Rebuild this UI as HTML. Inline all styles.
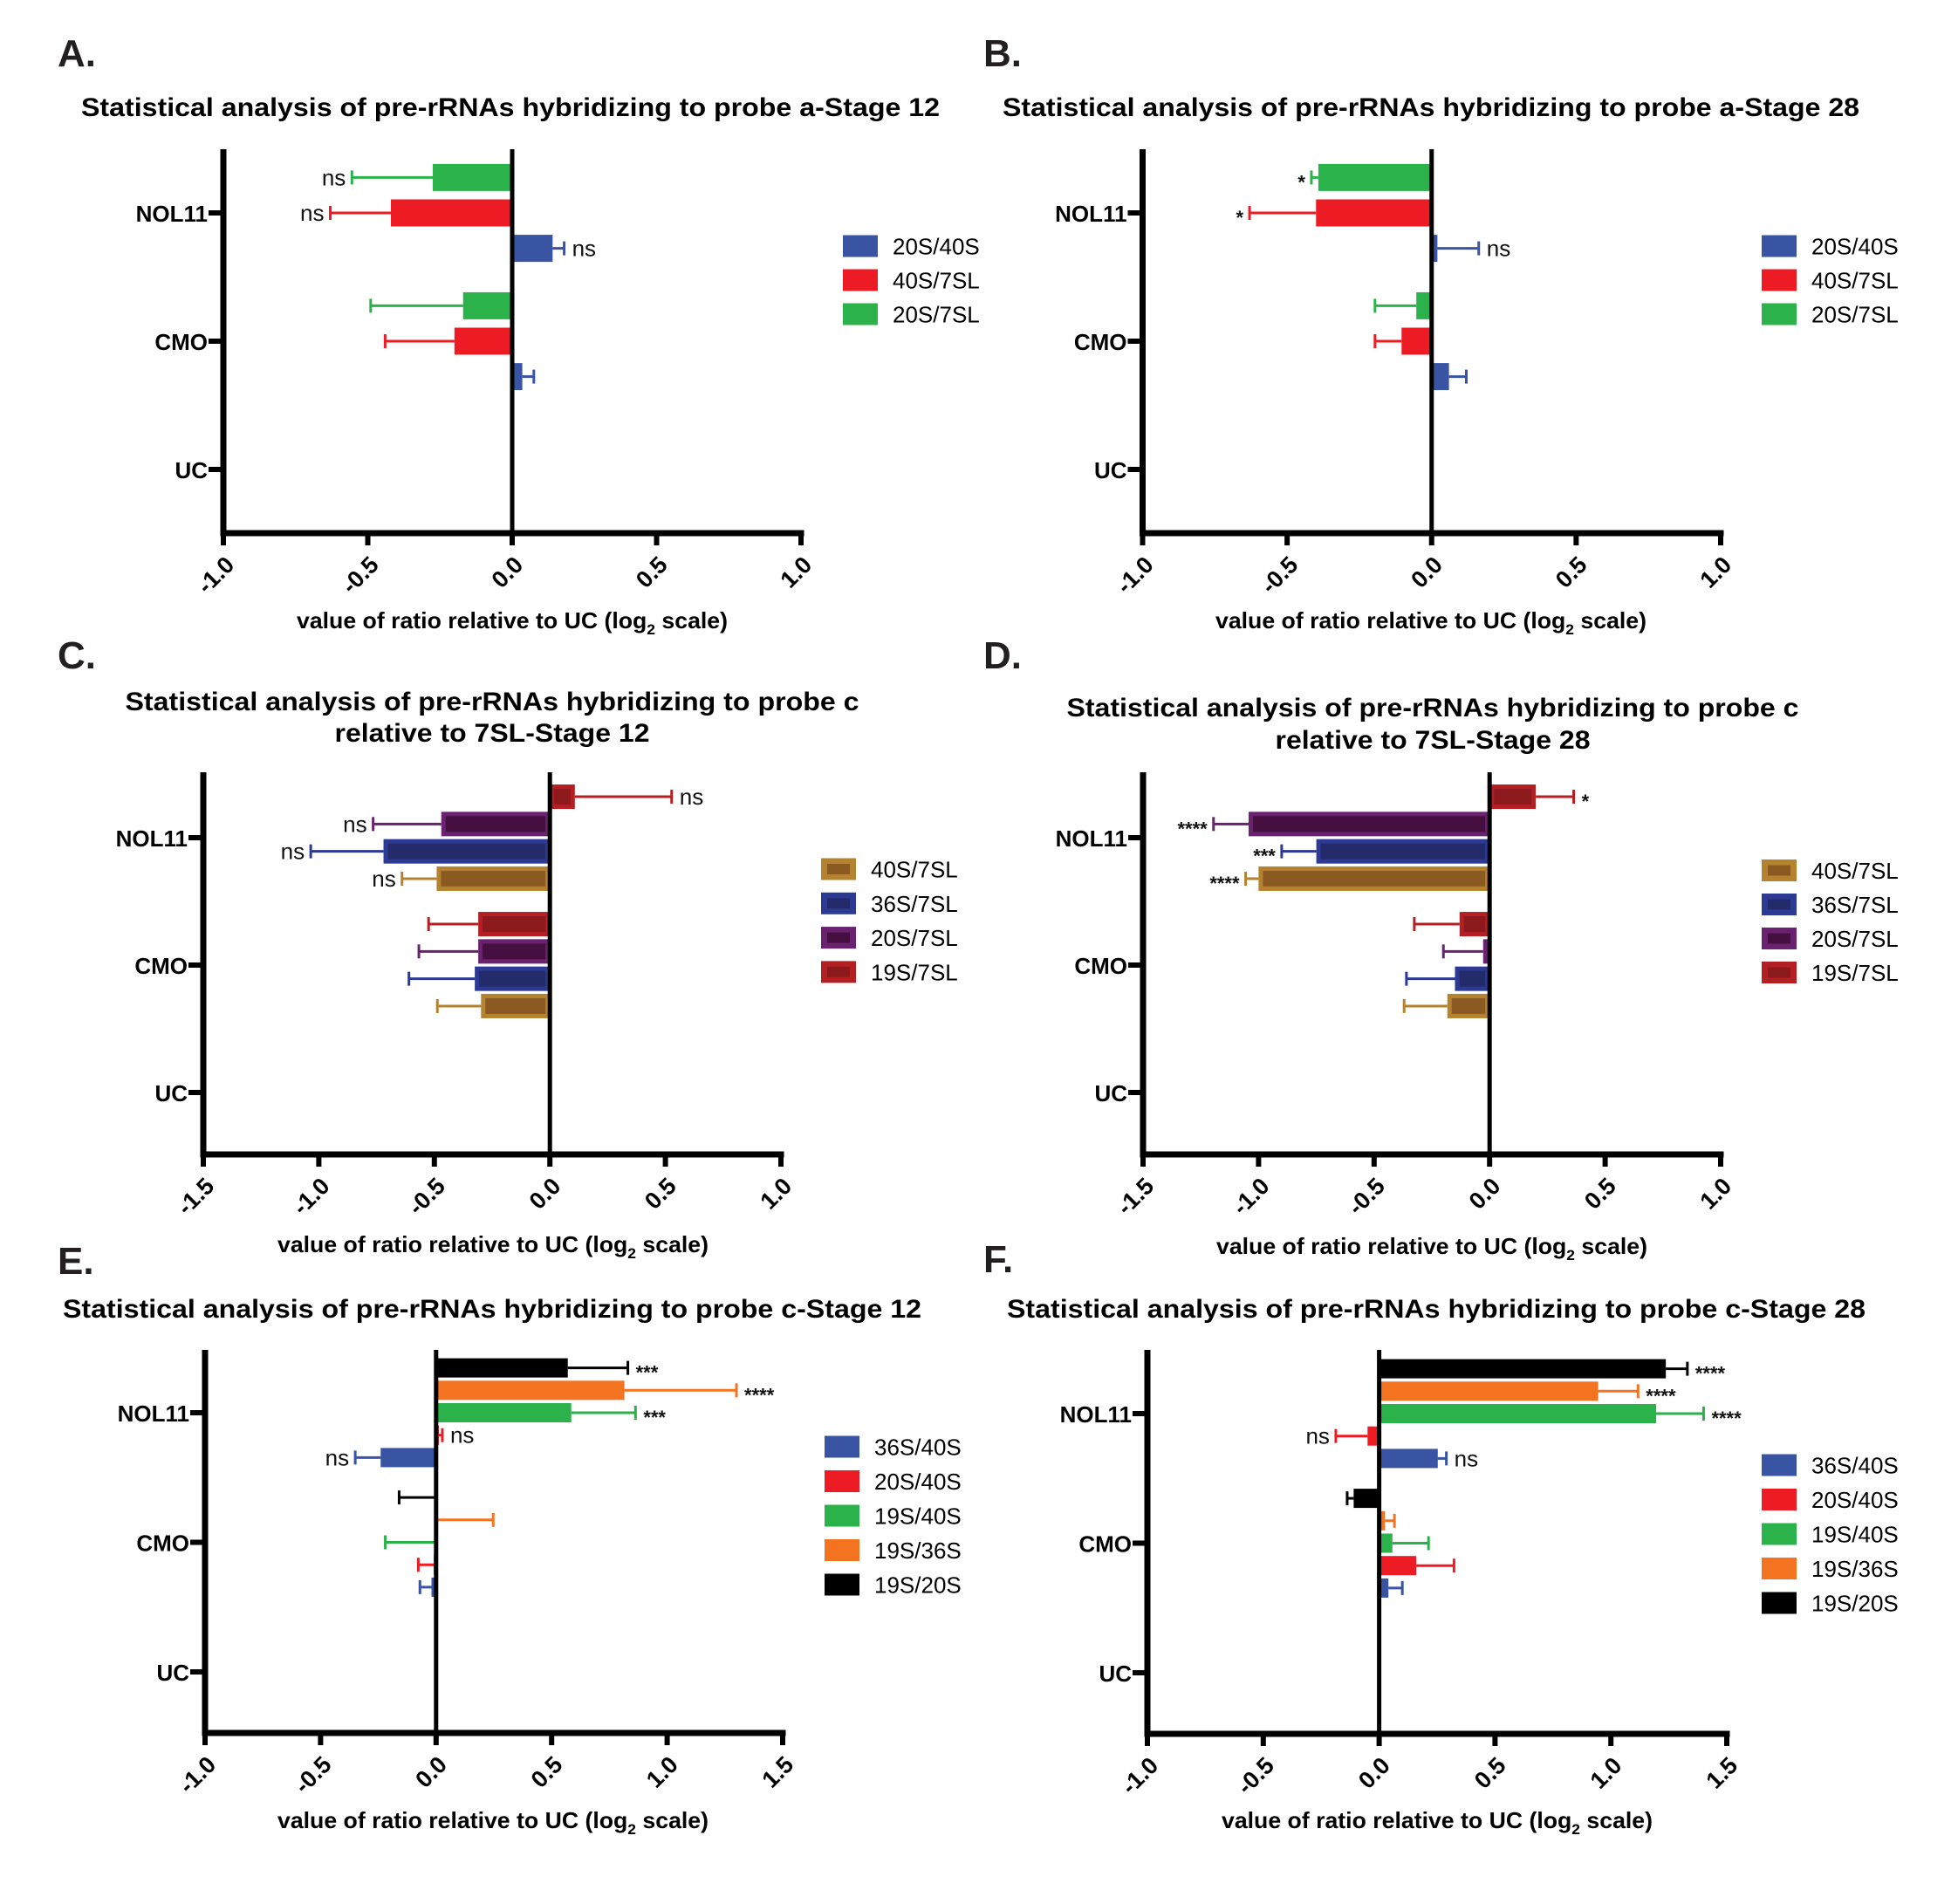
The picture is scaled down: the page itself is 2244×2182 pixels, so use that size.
<!DOCTYPE html>
<html><head><meta charset="utf-8"><style>
html,body{margin:0;padding:0;background:#fff;}
svg{display:block;font-family:"Liberation Sans",Arial,sans-serif;}
</style></head><body>
<svg id="fig" width="2244" height="2182" viewBox="0 0 2244 2182" xmlns="http://www.w3.org/2000/svg">
<rect width="2244" height="2182" fill="#fff"/>
</svg>
<script>
// ---------- DATA ----------
const categories = ['NOL11', 'CMO', 'UC'];
const ticksAB = [-1, -0.5, 0, 0.5, 1];
const ticksCD = [-1.5, -1, -0.5, 0, 0.5, 1];
const ticksEF = [-1, -0.5, 0, 0.5, 1, 1.5];
const tickLabelsAB = ['-1.0', '-0.5', '0.0', '0.5', '1.0'];
const tickLabelsCD = ['-1.5', '-1.0', '-0.5', '0.0', '0.5', '1.0'];
const tickLabelsEF = ['-1.0', '-0.5', '0.0', '0.5', '1.0', '1.5'];

const seriesA = ['20S/40S', '40S/7SL', '20S/7SL'];
const aNol = [0.14, -0.42, -0.275];
const aNolErr = [0.18, -0.63, -0.555];
const aCmo = [0.035, -0.2, -0.17];
const aCmoErr = [0.075, -0.44, -0.49];
const aSig = ['ns', 'ns', 'ns'];

const seriesB = ['20S/40S', '40S/7SL', '20S/7SL'];
const bNol = [0.02, -0.40, -0.392];
const bNolErr = [0.163, -0.63, -0.416];
const bCmo = [0.06, -0.104, -0.053];
const bCmoErr = [0.12, -0.196, -0.196];
const bSig = ['ns', '*', '*'];

const seriesC = ['40S/7SL', '36S/7SL', '20S/7SL', '19S/7SL'];
const cNol = [-0.49, -0.72, -0.47, 0.108];
const cNolErr = [-0.64, -1.035, -0.765, 0.527];
const cCmo = [-0.298, -0.325, -0.31, -0.31];
const cCmoErr = [-0.487, -0.61, -0.567, -0.525];
const cSig = ['ns', 'ns', 'ns', 'ns'];

const seriesD = ['40S/7SL', '36S/7SL', '20S/7SL', '19S/7SL'];
const dNol = [-1.00, -0.75, -1.043, 0.20];
const dNolErr = [-1.056, -0.90, -1.195, 0.364];
const dCmo = [-0.183, -0.15, -0.028, -0.13];
const dCmoErr = [-0.37, -0.36, -0.2, -0.326];
const dSig = ['****', '***', '****', '*'];

const seriesE = ['36S/40S', '20S/40S', '19S/40S', '19S/36S', '19S/20S'];
const eNol = [-0.24, 0.012, 0.585, 0.815, 0.57];
const eNolErr = [-0.35, 0.027, 0.863, 1.30, 0.83];
const eCmo = [-0.02, -0.01, -0.008, 0.008, -0.005];
const eCmoErr = [-0.07, -0.077, -0.22, 0.247, -0.16];
const eSig = ['ns', 'ns', '***', '****', '***'];

const seriesF = ['36S/40S', '20S/40S', '19S/40S', '19S/36S', '19S/20S'];
const fNol = [0.253, -0.05, 1.195, 0.945, 1.237];
const fNolErr = [0.29, -0.187, 1.40, 1.117, 1.33];
const fCmo = [0.04, 0.16, 0.057, 0.025, -0.11];
const fCmoErr = [0.1, 0.323, 0.213, 0.066, -0.138];
const fSig = ['ns', 'ns', '****', '****', '****'];

// ---------- STYLE ----------
const flat3 = [{f:'#3A54A4'},{f:'#ED1C24'},{f:'#2BB24A'}];
const rich4 = [{f:'#8A5A22',s:'#B5832F'},{f:'#232B6B',s:'#2D3A94'},{f:'#45103F',s:'#6A2270'},{f:'#8C1A1D',s:'#B41F24'}];
const flat5 = [{f:'#3A54A4'},{f:'#ED1C24'},{f:'#2BB24A'},{f:'#F37321'},{f:'#000000'}];

const NS = 'http://www.w3.org/2000/svg';
const svg = document.getElementById('fig');
function mk(tag, attrs, parent, txt){
  const e = document.createElementNS(NS, tag);
  for (const k in attrs) e.setAttribute(k, attrs[k]);
  if (txt !== undefined) e.textContent = txt;
  (parent || svg).appendChild(e);
  return e;
}

function panel(cfg){
  const g = mk('g', {});
  
  
  const sx = v => cfg.axisX + (v - cfg.xmin) * (cfg.right - cfg.axisX) / (cfg.xmax - cfg.xmin);
  const x0 = sx(0);
  const L = mk('text', {x: cfg.letterX, y: cfg.letterY, 'font-size': 44, 'font-weight': 'bold', fill: '#231f20'}, g, cfg.id + '.');
  
  
  cfg.title.forEach((t, i) => {
    const T = mk('text', {x: t.cx, y: t.y, 'font-size': 30, 'font-weight': 'bold', 'text-anchor': 'middle', textLength: t.w, lengthAdjust: 'spacingAndGlyphs'}, g, t.s);
    
    
  });
  const n = cfg.series.length;
  const cy = [cfg.catY0, cfg.catY0 + cfg.catStep, cfg.catY0 + 2 * cfg.catStep];
  const vals = [cfg.nol, cfg.cmo];
  const errs = [cfg.nolErr, cfg.cmoErr];
  for (let c = 0; c < 2; c++) {
    for (let i = 0; i < n; i++) {
      const yc = cy[c] + ((n - 1) / 2 - i) * cfg.spacing;
      const v = vals[c][i], e = errs[c][i];
      const xv = sx(v), xe = sx(e);
      const col = cfg.colors[i];
      const eg = mk('g', {stroke: col.s || col.f, 'stroke-width': 3}, g);
      
      
      mk('line', {x1: xv, y1: yc, x2: xe, y2: yc}, eg);
      mk('line', {x1: xe, y1: yc - 8, x2: xe, y2: yc + 8}, eg);
      const bx = Math.min(x0, xv), bw = Math.abs(xv - x0);
      const b = mk('rect', {x: bx, y: yc - cfg.barH / 2, width: Math.max(bw, 0.5), height: cfg.barH, fill: col.s || col.f}, g);
      
      
      if (col.s && bw > 10) {
        mk('rect', {x: bx + 5, y: yc - cfg.barH / 2 + 5, width: bw - 10, height: cfg.barH - 10, fill: col.f}, g);
      }
      if (c === 0) {
        const s = cfg.sig[i];
        const star = s.indexOf('*') >= 0;
        const tx = e < 0 ? xe - 7 : xe + 9;
        const S = mk('text', {x: tx, y: yc + (star ? 13 : 9), 'font-size': star ? 22 : 26, 'font-weight': star ? 'bold' : 'normal', 'text-anchor': e < 0 ? 'end' : 'start', fill: '#111'}, g, s);
        
        
      }
    }
  }
  const Z = mk('line', {x1: x0, y1: cfg.top, x2: x0, y2: cfg.bottom, stroke: '#000', 'stroke-width': 5}, g);
  
  
  const YA = mk('line', {x1: cfg.axisX, y1: cfg.top, x2: cfg.axisX, y2: cfg.bottom + 3.5, stroke: '#000', 'stroke-width': 7}, g);
  
  
  categories.forEach((name, i) => {
    mk('line', {x1: cfg.axisX - 17, y1: cy[i], x2: cfg.axisX, y2: cy[i], stroke: '#000', 'stroke-width': 6}, g);
    const t = mk('text', {x: cfg.axisX - 18, y: cy[i] + 10, 'font-size': 26, 'font-weight': 'bold', 'text-anchor': 'end'}, g, name);
    
    
  });
  const XA = mk('line', {x1: cfg.axisX - 3.5, y1: cfg.bottom, x2: cfg.right + 3.5, y2: cfg.bottom, stroke: '#000', 'stroke-width': 7}, g);
  
  
  cfg.ticks.forEach((tv, i) => {
    const tx = sx(tv);
    mk('line', {x1: tx, y1: cfg.bottom, x2: tx, y2: cfg.bottom + 14, stroke: '#000', 'stroke-width': 6}, g);
    const t = mk('text', {x: 0, y: 0, 'font-size': 27, 'font-weight': 'bold', 'text-anchor': 'end', transform: 'translate(' + (tx + 14) + ',' + (cfg.bottom + 38) + ') rotate(-45)'}, g, cfg.tickLabels[i]);
    
    
  });
  const AT = mk('text', {x: cfg.atX, y: cfg.atY, 'font-size': 26, 'font-weight': 'bold', 'text-anchor': 'middle', textLength: 494, lengthAdjust: 'spacingAndGlyphs'}, g);
  
  
  mk('tspan', {}, AT, 'value of ratio relative to UC (log');
  mk('tspan', {'font-size': 17, dy: 7}, AT, '2');
  mk('tspan', {dy: -7}, AT, ' scale)');
  for (let i = 0; i < n; i++) {
    const y = cfg.legY0 + i * cfg.legStep;
    const col = cfg.colors[i];
    const lg = mk('g', {}, g);
    
    
    mk('rect', {x: cfg.legX, y: y - 12.5, width: 40, height: 25, fill: col.s || col.f}, lg);
    if (col.s) mk('rect', {x: cfg.legX + 7, y: y - 6, width: 26, height: 12, fill: col.f}, lg);
    mk('text', {x: cfg.legX + 57, y: y + 9.5, 'font-size': 26}, lg, cfg.series[i]);
  }
}

panel({id:'A', letterX:66, letterY:76, title:[{s:'Statistical analysis of pre-rRNAs hybridizing to probe a-Stage 12', cx:585, y:133, w:984}],
  axisX:256, right:918, xmin:-1, xmax:1, top:171, bottom:611, catY0:244, catStep:147,
  spacing:40.6, barH:31, series:seriesA, colors:flat3, nol:aNol, nolErr:aNolErr, cmo:aCmo, cmoErr:aCmoErr, sig:aSig,
  ticks:ticksAB, tickLabels:tickLabelsAB, atX:587, atY:720, legX:966, legY0:282, legStep:39});
panel({id:'B', letterX:1127, letterY:76, title:[{s:'Statistical analysis of pre-rRNAs hybridizing to probe a-Stage 28', cx:1640, y:133, w:982}],
  axisX:1309.5, right:1972, xmin:-1, xmax:1, top:171, bottom:611, catY0:244, catStep:147,
  spacing:40.6, barH:31, series:seriesB, colors:flat3, nol:bNol, nolErr:bNolErr, cmo:bCmo, cmoErr:bCmoErr, sig:bSig,
  ticks:ticksAB, tickLabels:tickLabelsAB, atX:1640, atY:720, legX:2019, legY0:282, legStep:39});
panel({id:'C', letterX:66, letterY:766, title:[{s:'Statistical analysis of pre-rRNAs hybridizing to probe c', cx:564, y:814, w:841},{s:'relative to 7SL-Stage 12', cx:564, y:850, w:361}],
  axisX:233, right:895, xmin:-1.5, xmax:1, top:885, bottom:1323, catY0:960, catStep:146,
  spacing:31.3, barH:28, series:seriesC, colors:rich4, nol:cNol, nolErr:cNolErr, cmo:cCmo, cmoErr:cCmoErr, sig:cSig,
  ticks:ticksCD, tickLabels:tickLabelsCD, atX:565, atY:1435, legX:941, legY0:996, legStep:39.3});
panel({id:'D', letterX:1127, letterY:766, title:[{s:'Statistical analysis of pre-rRNAs hybridizing to probe c', cx:1642, y:821, w:839},{s:'relative to 7SL-Stage 28', cx:1642, y:858, w:361}],
  axisX:1310, right:1972, xmin:-1.5, xmax:1, top:885, bottom:1323, catY0:960, catStep:146,
  spacing:31.3, barH:28, series:seriesD, colors:rich4, nol:dNol, nolErr:dNolErr, cmo:dCmo, cmoErr:dCmoErr, sig:dSig,
  ticks:ticksCD, tickLabels:tickLabelsCD, atX:1641, atY:1437, legX:2019, legY0:997.5, legStep:39});
panel({id:'E', letterX:66, letterY:1460, title:[{s:'Statistical analysis of pre-rRNAs hybridizing to probe c-Stage 12', cx:564, y:1510, w:984}],
  axisX:235, right:897, xmin:-1, xmax:1.5, top:1547, bottom:1986, catY0:1619, catStep:148.5,
  spacing:25.7, barH:22, series:seriesE, colors:flat5, nol:eNol, nolErr:eNolErr, cmo:eCmo, cmoErr:eCmoErr, sig:eSig,
  ticks:ticksEF, tickLabels:tickLabelsEF, atX:565, atY:2095, legX:945, legY0:1658, legStep:39.5});
panel({id:'F', letterX:1127, letterY:1458, title:[{s:'Statistical analysis of pre-rRNAs hybridizing to probe c-Stage 28', cx:1646, y:1510, w:984}],
  axisX:1315, right:1979, xmin:-1, xmax:1.5, top:1547, bottom:1987, catY0:1620, catStep:148.5,
  spacing:25.7, barH:22, series:seriesF, colors:flat5, nol:fNol, nolErr:fNolErr, cmo:fCmo, cmoErr:fCmoErr, sig:fSig,
  ticks:ticksEF, tickLabels:tickLabelsEF, atX:1647, atY:2095, legX:2019, legY0:1679, legStep:39.5});
</script>
</body></html>
